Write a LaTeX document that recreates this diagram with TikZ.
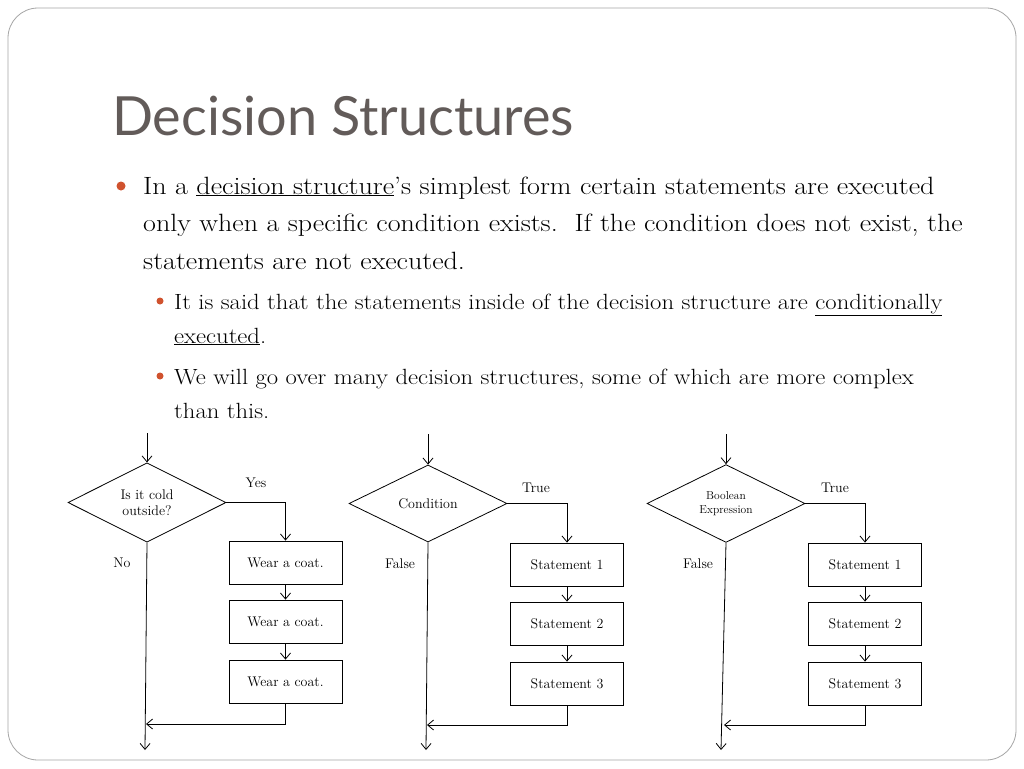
\documentclass[tikz,border=0pt]{standalone}
\usepackage{fontspec}
\newfontfamily\titlefont{Lato}
\newfontfamily\bodyfont[FakeStretch=1.12,Ligatures=TeX]{Latin Modern Roman}
\usetikzlibrary{shapes.geometric,arrows.meta}
\definecolor{titlegray}{HTML}{625B59}
\definecolor{bulletred}{HTML}{D0522E}
\begin{document}
\begin{tikzpicture}[x=1pt,y=-1pt,
  fc/.style={font=\fontsize{14}{16.5}\selectfont},
  dia/.style={diamond,draw,thick,minimum width=158pt,minimum height=77pt,inner sep=0pt,align=center,fc},
  box/.style={rectangle,draw,thick,minimum width=113pt,minimum height=43pt,fc},
  arr/.style={thick,-{Straight Barb[length=6pt,width=10pt]}},
  lbl/.style={fc,inner sep=0pt},
  body/.style={anchor=base west,inner sep=0pt,font=\bodyfont\fontsize{25}{28}\selectfont},
  sub/.style={anchor=base west,inner sep=0pt,font=\bodyfont\fontsize{22}{25}\selectfont}]
\useasboundingbox (0,0) rectangle (1024,768);
\fill[white] (0,0) rectangle (1024,768);
\draw[gray!70,line width=0.8pt,rounded corners=30pt] (8,8) rectangle (1016,760);
\node[anchor=base west,inner sep=0pt,text=titlegray,font=\titlefont\fontsize{54}{60}\selectfont] (title) at (112,135) {Decision Structures};
% bullets
\fill[bulletred] (121,186) circle (4.5pt);
\node[body] (b1) at (143,194) {In a \underline{decision structure}’s simplest form certain statements are executed};
\node[body] (b2) at (143,231) {only when a specific condition exists.\ \ If the condition does not exist, the};
\node[body] (b3) at (143,269) {statements are not executed.};
\fill[bulletred] (160,301) circle (3.5pt);
\node[sub] (s1) at (174,309) {It is said that the statements inside of the decision structure are \underline{conditionally}};
\node[sub] (s2) at (174,343) {\underline{executed}.};
\fill[bulletred] (160,376) circle (3.5pt);
\node[sub] (s3) at (174,384) {We will go over many decision structures, some of which are more complex};
\node[sub] (s4) at (174,418) {than this.};
% flowchart 1
\coordinate (a0) at (147,433);
\node[dia] (d1) at (147,502.5) {Is it cold\\outside?};
\node[box] (a1) at (285.5,562.5) {Wear a coat.};
\node[box] (a2) at (285.5,621.5) {Wear a coat.};
\node[box] (a3) at (285.5,681.5) {Wear a coat.};
\coordinate (ae) at (145,750);
\coordinate (am) at (146,724);
\draw[arr] (a0) -- (d1.north);
\draw[arr] (d1.east) -| (a1.north);
\draw[arr] (a1) -- (a2);
\draw[arr] (a2) -- (a3);
\draw[arr] (d1.south) -- (ae);
\draw[arr] (a3.south) |- (am);
\node[lbl] (y1) at (256,483) {Yes};
\node[lbl] (n1) at (122,563) {No};
% flowchart 2
\coordinate (b0) at (428,434);
\node[dia] (d2) at (428,503.5) {Condition};
\node[box] (c1) at (567,564.5) {Statement 1};
\node[box] (c2) at (567,623.5) {Statement 2};
\node[box] (c3) at (567,683.5) {Statement 3};
\coordinate (be) at (426,750);
\coordinate (bm) at (427,725);
\draw[arr] (b0) -- (d2.north);
\draw[arr] (d2.east) -| (c1.north);
\draw[arr] (c1) -- (c2);
\draw[arr] (c2) -- (c3);
\draw[arr] (d2.south) -- (be);
\draw[arr] (c3.south) |- (bm);
\node[lbl] (t2) at (536,488) {True};
\node[lbl] (f2) at (400,564) {False};
% flowchart 3
\coordinate (e0) at (726,434);
\node[dia,font=\fontsize{11.5}{14.5}\selectfont] (d3) at (726,503.5) {Boolean\\Expression};
\node[box] (g1) at (865,564.5) {Statement 1};
\node[box] (g2) at (865,623.5) {Statement 2};
\node[box] (g3) at (865,683.5) {Statement 3};
\coordinate (ee) at (721,750);
\coordinate (em) at (724,725);
\draw[arr] (e0) -- (d3.north);
\draw[arr] (d3.east) -| (g1.north);
\draw[arr] (g1) -- (g2);
\draw[arr] (g2) -- (g3);
\draw[arr] (d3.south) -- (ee);
\draw[arr] (g3.south) |- (em);
\node[lbl] (t3) at (835,488) {True};
\node[lbl] (f3) at (698,564) {False};
\end{tikzpicture}
\end{document}
